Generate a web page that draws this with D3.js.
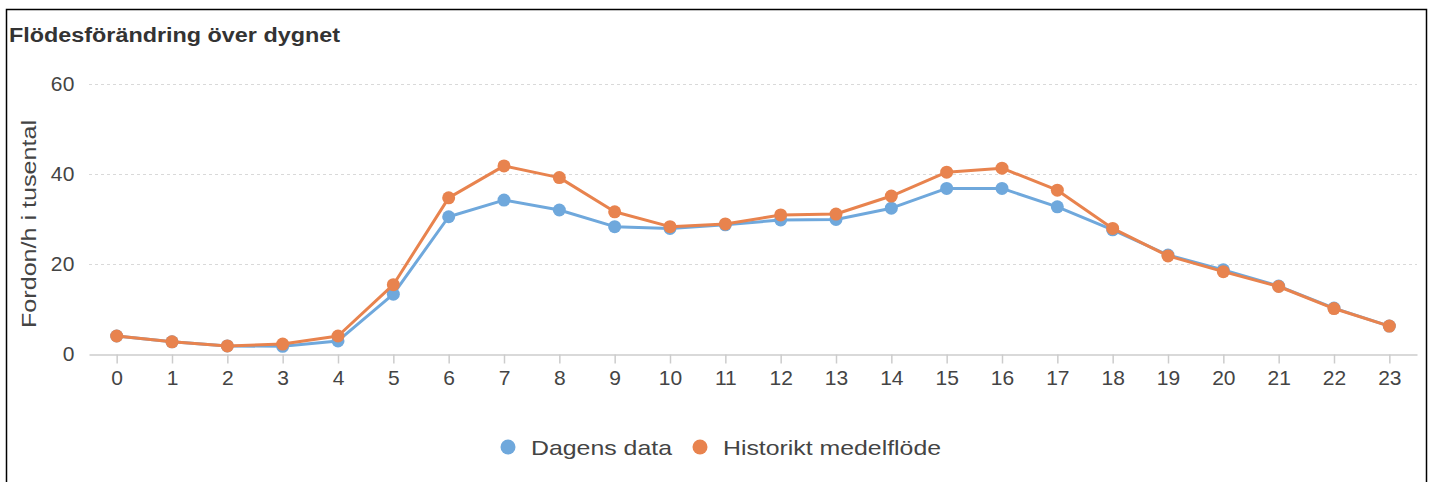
<!DOCTYPE html>
<html>
<head>
<meta charset="utf-8">
<script src="https://cdn.jsdelivr.net/npm/d3@7"></script>
<style>
  body { margin: 0; background: #fff; font-family: "Liberation Sans", Arial, sans-serif; }
  svg { display: block; }
</style>
</head>
<body>
<div class="chart"></div>
<script>
// hours of the day
var hours = d3.range(0, 24);

// today's flow (thousand vehicles/h)
var dagensData = [4.0, 2.7, 1.8, 1.7, 2.9, 13.3, 30.5, 34.2, 32.0, 28.3, 27.9, 28.7,
  29.8, 29.9, 32.4, 36.8, 36.8, 32.7, 27.6, 22.0, 18.7, 15.1, 10.2, 6.2];

// historical average flow
var historiktData = [4.0, 2.7, 1.8, 2.2, 4.0, 15.4, 34.7, 41.8, 39.2, 31.6, 28.3, 28.9,
  30.9, 31.1, 35.1, 40.4, 41.3, 36.4, 27.9, 21.8, 18.3, 15.0, 10.1, 6.2];

var yTicks = [0, 20, 40, 60];

var seriesNames = ["Dagens data", "Historikt medelflöde"];
var colors = ["#6fa8dc", "#e8834e"];

var svgWidth = 1431;
var svgHeight = 482;

var margin = { top: 84, right: 14, bottom: 128, left: 89 };
var width = svgWidth - margin.left - margin.right;
var height = svgHeight - margin.top - margin.bottom;

var svg = d3.select(".chart")
  .append("svg")
  .attr("width", svgWidth)
  .attr("height", svgHeight);

// outer frame
svg.append("rect")
  .attr("x", 6.5)
  .attr("y", 9.5)
  .attr("width", 1420)
  .attr("height", 480)
  .attr("fill", "none")
  .attr("stroke", "#000")
  .attr("stroke-width", 1.5);

svg.append("text")
  .attr("x", 9)
  .attr("y", 42)
  .attr("font-size", 20)
  .attr("font-weight", "bold")
  .attr("fill", "#333")
  .attr("textLength", 331)
  .attr("lengthAdjust", "spacingAndGlyphs")
  .text("Flödesförändring över dygnet");

var chartGroup = svg.append("g")
  .attr("transform", `translate(${margin.left}, ${margin.top})`);

var xScale = d3.scalePoint()
  .domain(hours)
  .range([0, width])
  .padding(0.5);

var yScale = d3.scaleLinear()
  .domain([0, 60])
  .range([height, 0]);

// dashed grid lines
chartGroup.append("g")
  .selectAll("line")
  .data(yTicks.filter(d => d > 0))
  .enter()
  .append("line")
  .attr("x1", 0)
  .attr("x2", width)
  .attr("y1", d => yScale(d) + 0.5)
  .attr("y2", d => yScale(d) + 0.5)
  .attr("stroke", "#d9d9d9")
  .attr("stroke-dasharray", "3,3");

// y axis labels
var leftAxis = d3.axisLeft(yScale).tickValues(yTicks).tickSize(0).tickPadding(14);
var yAxis = chartGroup.append("g").call(leftAxis);
yAxis.select(".domain").remove();
yAxis.selectAll("text")
  .attr("font-family", "Liberation Sans, Arial, sans-serif")
  .attr("font-size", 21)
  .attr("letter-spacing", 0.5)
  .attr("fill", "#444");

// x axis
var bottomAxis = d3.axisBottom(xScale).tickSize(9).tickPadding(7).tickSizeOuter(0);
var xAxis = chartGroup.append("g")
  .attr("transform", `translate(0, ${height + 0.5})`)
  .call(bottomAxis);
xAxis.select(".domain").attr("stroke", "#ccc").attr("stroke-width", 1.5);
xAxis.selectAll(".tick line").attr("stroke", "#ccc").attr("stroke-width", 1.5);
xAxis.selectAll("text")
  .attr("font-family", "Liberation Sans, Arial, sans-serif")
  .attr("font-size", 21)
  .attr("fill", "#444");

// y axis title
chartGroup.append("text")
  .attr("transform", "rotate(-90)")
  .attr("x", -(yScale(30) + 5))
  .attr("y", -53)
  .attr("text-anchor", "middle")
  .attr("font-size", 20)
  .attr("fill", "#444")
  .attr("textLength", 208)
  .attr("lengthAdjust", "spacingAndGlyphs")
  .text("Fordon/h i tusental");

var allSeries = [dagensData, historiktData];

var line = d3.line()
  .x((d, i) => xScale(hours[i]))
  .y(d => yScale(d));

allSeries.forEach(function (values, s) {
  chartGroup.append("path")
    .datum(values)
    .attr("fill", "none")
    .attr("stroke", colors[s])
    .attr("stroke-width", 3)
    .attr("stroke-linejoin", "round")
    .attr("d", line);

  chartGroup.append("g")
    .selectAll("circle")
    .data(values)
    .enter()
    .append("circle")
    .attr("cx", (d, i) => xScale(hours[i]))
    .attr("cy", d => yScale(d))
    .attr("r", 6.5)
    .attr("fill", colors[s]);
});

// legend
var legend = svg.append("g").attr("transform", "translate(0, 447)");
var legendX = [508, 700];
var legendLen = [141, 218];
seriesNames.forEach(function (name, s) {
  legend.append("circle")
    .attr("cx", legendX[s])
    .attr("cy", 0)
    .attr("r", 7.5)
    .attr("fill", colors[s]);
  legend.append("text")
    .attr("x", legendX[s] + 23)
    .attr("y", 8)
    .attr("font-size", 21)
    .attr("fill", "#444")
    .attr("textLength", legendLen[s])
    .attr("lengthAdjust", "spacingAndGlyphs")
    .text(name);
});
</script>
</body>
</html>
